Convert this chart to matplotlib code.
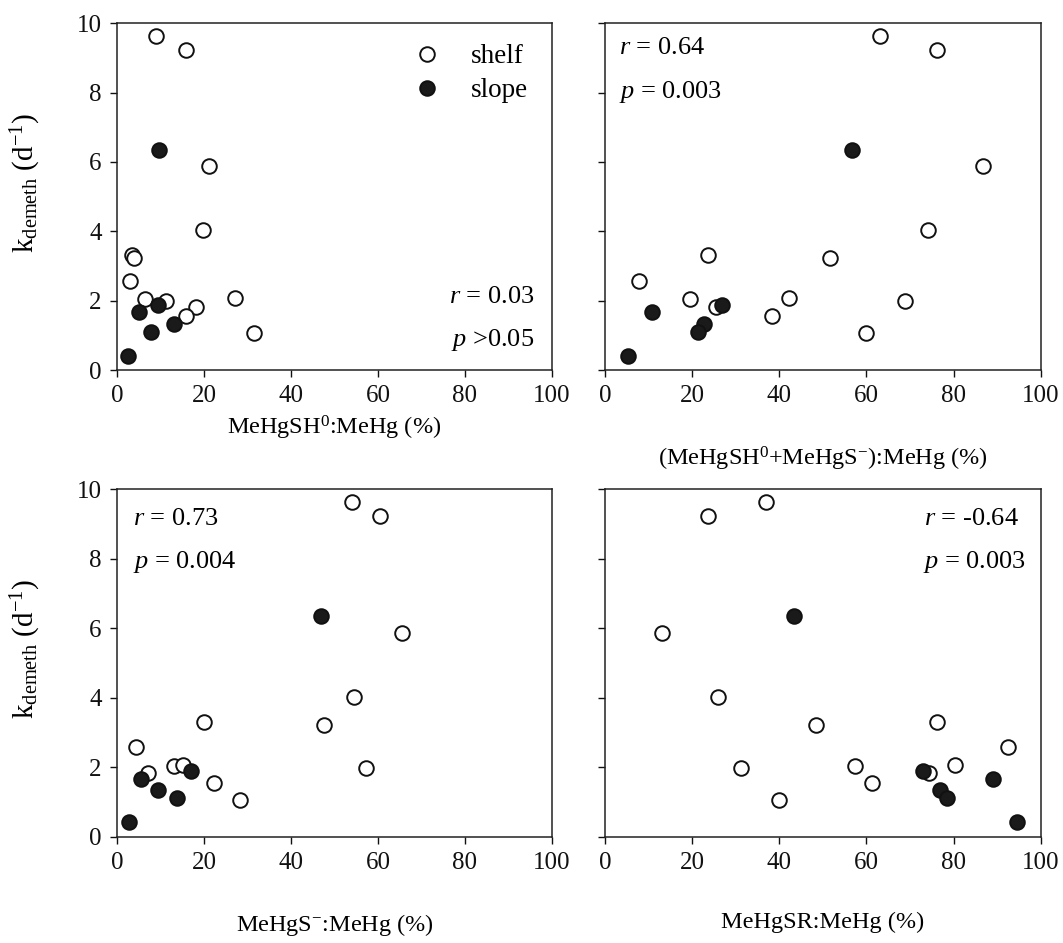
import matplotlib
matplotlib.use("Agg")
import matplotlib.pyplot as plt

plt.rcParams['font.family'] = ['Liberation Serif', 'DejaVu Serif']
plt.rcParams['mathtext.fontset'] = 'custom'
plt.rcParams['mathtext.rm'] = 'Liberation Serif'
plt.rcParams['mathtext.it'] = 'Liberation Serif:italic'

# k_demeth values (d-1)
k_shelf = [9.64, 9.23, 5.87, 4.03, 3.31, 3.23, 2.57, 2.05, 2.07, 1.98, 1.82, 1.56, 1.07]
k_slope = [6.36, 1.88, 1.66, 1.34, 1.11, 0.41]

# species fractions (%) for each panel, same order as k lists
sh0_shelf = [8.9, 15.8, 21.2, 19.7, 3.5, 3.9, 2.9, 6.4, 27.1, 11.3, 18.1, 15.8, 31.6]
sh0_slope = [9.7, 9.5, 5.1, 13.1, 7.7, 2.5]
sum_shelf = [63.1, 76.2, 86.8, 74.1, 23.7, 51.6, 7.7, 19.5, 42.3, 68.8, 25.4, 38.3, 59.9]
sum_slope = [56.6, 26.8, 10.7, 22.8, 21.4, 5.4]
s_shelf = [54.1, 60.4, 65.6, 54.4, 19.9, 47.6, 4.4, 13.0, 15.2, 57.3, 7.2, 22.4, 28.2]
s_slope = [46.8, 16.9, 5.5, 9.5, 13.7, 2.7]
sr_shelf = [36.9, 23.7, 13.2, 25.9, 76.2, 48.4, 92.4, 57.5, 80.3, 31.2, 74.4, 61.4, 39.9]
sr_slope = [43.5, 73.1, 89.1, 76.9, 78.4, 94.6]

xlabels = [r'MeHgSH$^{\mathregular{0}}$:MeHg (%)',
           r'(MeHgSH$^{\mathregular{0}}$+MeHgS$^{\mathregular{-}}$):MeHg (%)',
           r'MeHgS$^{\mathregular{-}}$:MeHg (%)',
           r'MeHgSR:MeHg (%)']
r_labels = ['0.03', '0.64', '0.73', '-0.64']
p_labels = [r'$\it{p}$ >0.05', r'$\it{p}$ = 0.003', r'$\it{p}$ = 0.004', r'$\it{p}$ = 0.003']

fig = plt.figure(figsize=(10.63, 9.43), dpi=100)
positions = [[0.1101, 0.6076, 0.4090, 0.3677],
             [0.5691, 0.6076, 0.4099, 0.3677],
             [0.1101, 0.1127, 0.4090, 0.3684],
             [0.5691, 0.1127, 0.4099, 0.3684]]
xs = [(sh0_shelf, sh0_slope), (sum_shelf, sum_slope), (s_shelf, s_slope), (sr_shelf, sr_slope)]

mk = dict(linestyle='none', marker='o', markersize=10.5, markeredgewidth=1.4,
          markeredgecolor='#111111')
fs_txt = 19

for i, pos in enumerate(positions):
    ax = fig.add_axes(pos)
    xsh, xsl = xs[i]
    h1, = ax.plot(xsh, k_shelf, markerfacecolor='white', label='shelf', **mk)
    h2, = ax.plot(xsl, k_slope, markerfacecolor='#1a1a1a', label='slope', **mk)
    ax.set_xlim(0, 100)
    ax.set_ylim(0, 10)
    ax.set_xticks(range(0, 101, 20))
    ax.set_yticks(range(0, 11, 2))
    ax.tick_params(direction='out', length=5, width=1, labelsize=18, colors='#111111', pad=6)
    for s in ax.spines.values():
        s.set_linewidth(1.1)
        s.set_color('#222222')
    if i % 2 == 1:
        ax.set_yticklabels([])
    else:
        ax.set_ylabel(r'k$_{\mathregular{demeth}}$ (d$^{\mathregular{-1}}$)', fontsize=21)
        ax.yaxis.set_label_coords(-0.17, 0.54)
    ax.set_xlabel(xlabels[i], fontsize=17.5, labelpad=5 if i == 0 else 27)

    r_txt = r'$\it{r}$ = ' + r_labels[i]
    if i == 0:
        ax.text(96.1, 2.11, r_txt, ha='right', va='center', fontsize=fs_txt)
        ax.text(96.0, 0.87, p_labels[i], ha='right', va='center', fontsize=fs_txt)
        ax.legend(handles=[h1, h2], loc='upper left', bbox_to_anchor=(0.625, 1.01),
                  frameon=False, fontsize=19.5, handlelength=1.0, handletextpad=1.15,
                  labelspacing=0.33)
    elif i == 1:
        ax.text(3.2, 9.28, r_txt, ha='left', va='center', fontsize=fs_txt)
        ax.text(3.2, 8.03, p_labels[i], ha='left', va='center', fontsize=fs_txt)
    elif i == 2:
        ax.text(3.6, 9.15, r_txt, ha='left', va='center', fontsize=fs_txt)
        ax.text(3.6, 7.92, p_labels[i], ha='left', va='center', fontsize=fs_txt)
    else:
        ax.text(95.0, 9.15, r_txt, ha='right', va='center', fontsize=fs_txt)
        ax.text(96.6, 7.92, p_labels[i], ha='right', va='center', fontsize=fs_txt)

fig.savefig('out.png', dpi=100, facecolor='white')
